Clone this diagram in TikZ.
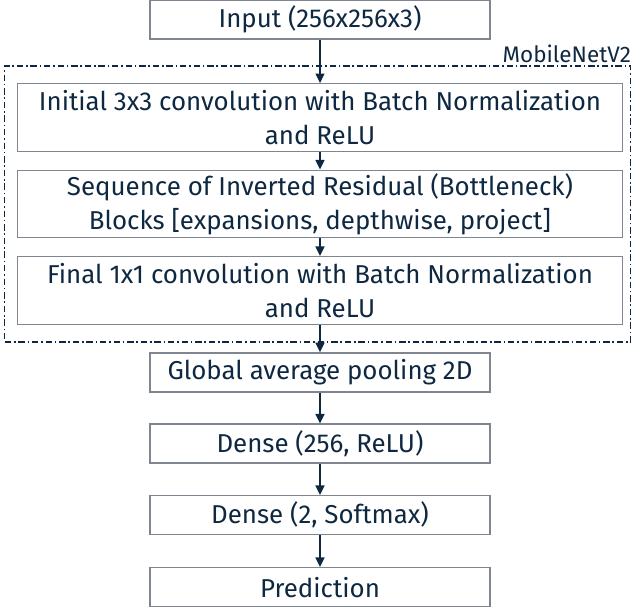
\documentclass[tikz,border=0pt]{standalone}
\usepackage{fontspec}
\setmainfont{Fira Sans}
\usepackage{xcolor}
\usepackage{tikz}
\usetikzlibrary{arrows.meta, positioning, fit, calc}
\definecolor{navy}{HTML}{0E2841}
\definecolor{boxgray}{RGB}{128,134,145}
\tikzset{
  layer/.style={rectangle, minimum width=8.5cm, minimum height=0.975cm, inner sep=0pt, text centered, draw=boxgray, line width=0.9pt, text=navy, font=\fontsize{18.4}{24}\selectfont},
  block/.style={layer, minimum width=15.12cm, minimum height=1.69cm, align=center},
  arrow/.style={draw=navy, line width=1.4pt, -{Triangle[length=0.24cm, width=0.22cm]}},
  group/.style={draw=navy, line width=0.8pt, dash pattern=on 0.16cm off 0.07cm on 0.04cm off 0.07cm},
  grouplabel/.style={inner sep=0pt, text=navy, font=\fontsize{16}{20}\selectfont}
}

\begin{document}
\begin{tikzpicture}[node distance=2.16cm, on grid]
\useasboundingbox (0,0) rectangle (15.85,-15.275);
% Main flow (centre to centre)
\node[layer] (in) at (8.0,-0.49) {Input (256x256x3)};
\node[block, below=2.45cm of in] (conv1) {Initial 3x3 convolution with Batch Normalization\\and ReLU};
\node[block, below=of conv1] (bneck) {Sequence of Inverted Residual (Bottleneck)\\Blocks [expansions, depthwise, project]};
\node[block, below=of bneck] (conv2) {Final 1x1 convolution with Batch Normalization\\and ReLU};
\node[layer, below=2.05cm of conv2] (gap) {Global average pooling 2D};
\node[layer, below=1.78cm of gap] (fc1) {Dense (256, ReLU)};
\node[layer, below=1.79cm of fc1] (fc2) {Dense (2, Softmax)};
\node[layer, below=1.8cm of fc2] (pred) {Prediction};

% Backbone frame
\node[group, fit=(conv1)(conv2), inner xsep=0.25cm, inner ysep=0.43cm, xshift=-0.056cm] (mnet) {};
\node[grouplabel, anchor=base east, yshift=0.075cm] (mnetlabel) at (mnet.north east) {MobileNetV2};

\draw[arrow] (in) -- (conv1);
\draw[arrow] (conv1) -- (bneck);
\draw[arrow] (bneck) -- (conv2);
\draw[arrow] (conv2) -- (gap);
\draw[arrow] (gap) -- (fc1);
\draw[arrow] (fc1) -- (fc2);
\draw[arrow] (fc2) -- (pred);
\end{tikzpicture}
\end{document}
